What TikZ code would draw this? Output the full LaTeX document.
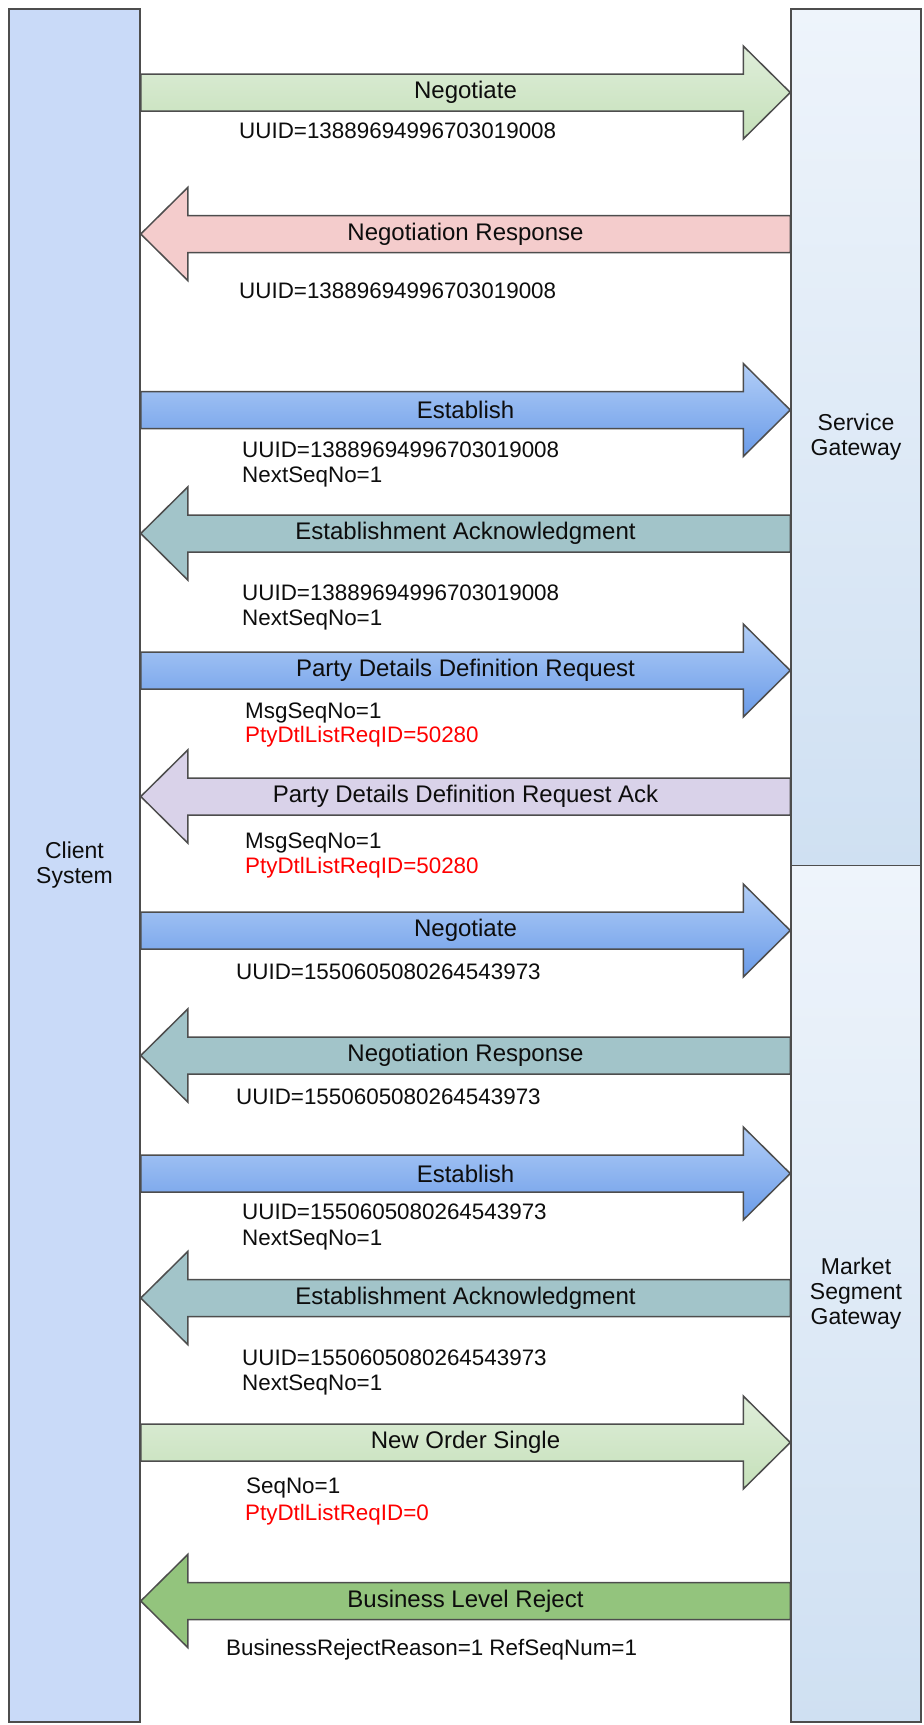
\documentclass[tikz,border=0pt]{standalone}
\usepackage{fontspec}
\setmainfont{Liberation Sans}
\usetikzlibrary{calc}
\definecolor{clientblue}{HTML}{C9DAF8}
\definecolor{gwtop}{HTML}{EEF4FB}
\definecolor{gwbot}{HTML}{CFE0F2}
\definecolor{lgreentop}{HTML}{DFEEDA}
\definecolor{lgreenbot}{HTML}{C5E0B9}
\definecolor{pinkfill}{HTML}{F4CCCC}
\definecolor{bluetop}{HTML}{B2CEF7}
\definecolor{bluebot}{HTML}{6A9BE8}
\definecolor{tealfill}{HTML}{A2C4C9}
\definecolor{lavfill}{HTML}{D9D2E9}
\definecolor{greenfill}{HTML}{93C47D}
\definecolor{edgegray}{HTML}{4D4D4D}
\definecolor{redtext}{HTML}{FF0000}
\definecolor{txt}{HTML}{0D0D0D}
\tikzset{
  basefont/.style={font=\fontsize{23}{25}\selectfont, text=txt},
  lifeline/.style={draw=edgegray, line width=1.5pt, rectangle, align=center, inner sep=0pt, basefont},
  gateway/.style={lifeline, top color=gwtop, bottom color=gwbot, minimum width=130pt},
  msgshape/.style={draw=edgegray, line width=1.5pt, line join=miter},
  msglabel/.style={font=\fontsize{24}{26}\selectfont, text=txt, inner sep=0pt},
  note/.style={font=\fontsize{22.4}{25}\selectfont, text=txt, anchor=base west, inner sep=0pt},
  rednote/.style={note, text=redtext},
  lgreen/.style={top color=lgreentop, bottom color=lgreenbot},
  pinkarrow/.style={fill=pinkfill},
  bluearrow/.style={top color=bluetop, bottom color=bluebot},
  tealarrow/.style={fill=tealfill},
  lavarrow/.style={fill=lavfill},
  greenarrow/.style={fill=greenfill},
}
\newcommand\msgarrow[5]{%
  \coordinate (#5hb) at ($(#2)!47pt!(#1)$);
  \path[msgshape,#3] ($(#1)+(0,-18.5)$) -- ($(#5hb)+(0,-18.5)$) -- ($(#5hb)+(0,-46.5)$) -- (#2)
     -- ($(#5hb)+(0,46.5)$) -- ($(#5hb)+(0,18.5)$) -- ($(#1)+(0,18.5)$) -- cycle;
  \node[msglabel] (#5) at ($(#1)!0.5!(#2)$) {#4};
}
\begin{document}
\begin{tikzpicture}[x=1pt,y=-1pt]
\useasboundingbox (0,0) rectangle (924,1725);
\node[lifeline, fill=clientblue, minimum width=131pt, minimum height=1713pt] (client) at (74.5,865.5) {Client\\System};
\node[gateway, minimum height=856.5pt] (sg) at (856,437.25) {Service\\Gateway};
\node[gateway, minimum height=856.5pt] (msg) at (856,1293.75) {Market\\Segment\\Gateway};

% 1 Negotiate
\coordinate (c1) at (client.east |- 0,92.5); \coordinate (g1) at (sg.west |- 0,92.5);
\msgarrow{c1}{g1}{lgreen}{Negotiate}{m1}
\node[note] (n1) at (239,138) {UUID=13889694996703019008};
% 2 Negotiation Response
\coordinate (c2) at (client.east |- 0,234); \coordinate (g2) at (sg.west |- 0,234);
\msgarrow{g2}{c2}{pinkarrow}{Negotiation Response}{m2}
\node[note] (n2) at (239,298) {UUID=13889694996703019008};
% 3 Establish
\coordinate (c3) at (client.east |- 0,410); \coordinate (g3) at (sg.west |- 0,410);
\msgarrow{c3}{g3}{bluearrow}{Establish}{m3}
\node[note] (n3a) at (242,457) {UUID=13889694996703019008};
\node[note] (n3b) at (242,482) {NextSeqNo=1};
% 4 Establishment Acknowledgment
\coordinate (c4) at (client.east |- 0,533.5); \coordinate (g4) at (sg.west |- 0,533.5);
\msgarrow{g4}{c4}{tealarrow}{Establishment Acknowledgment}{m4}
\node[note] (n4a) at (242,600) {UUID=13889694996703019008};
\node[note] (n4b) at (242,625) {NextSeqNo=1};
% 5 Party Details Definition Request
\coordinate (c5) at (client.east |- 0,670.5); \coordinate (g5) at (sg.west |- 0,670.5);
\msgarrow{c5}{g5}{bluearrow}{Party Details Definition Request}{m5}
\node[note] (n5a) at (245,718) {MsgSeqNo=1};
\node[rednote] (n5b) at (245,742) {PtyDtlListReqID=50280};
% 6 Party Details Definition Request Ack
\coordinate (c6) at (client.east |- 0,796.5); \coordinate (g6) at (sg.west |- 0,796.5);
\msgarrow{g6}{c6}{lavarrow}{Party Details Definition Request Ack}{m6}
\node[note] (n6a) at (245,848) {MsgSeqNo=1};
\node[rednote] (n6b) at (245,873) {PtyDtlListReqID=50280};
% 7 Negotiate
\coordinate (c7) at (client.east |- 0,930.5); \coordinate (g7) at (msg.west |- 0,930.5);
\msgarrow{c7}{g7}{bluearrow}{Negotiate}{m7}
\node[note] (n7) at (236,979) {UUID=1550605080264543973};
% 8 Negotiation Response
\coordinate (c8) at (client.east |- 0,1055.5); \coordinate (g8) at (msg.west |- 0,1055.5);
\msgarrow{g8}{c8}{tealarrow}{Negotiation Response}{m8}
\node[note] (n8) at (236,1104) {UUID=1550605080264543973};
% 9 Establish
\coordinate (c9) at (client.east |- 0,1173.5); \coordinate (g9) at (msg.west |- 0,1173.5);
\msgarrow{c9}{g9}{bluearrow}{Establish}{m9}
\node[note] (n9a) at (242,1219) {UUID=1550605080264543973};
\node[note] (n9b) at (242,1245) {NextSeqNo=1};
% 10 Establishment Acknowledgment
\coordinate (c10) at (client.east |- 0,1298); \coordinate (g10) at (msg.west |- 0,1298);
\msgarrow{g10}{c10}{tealarrow}{Establishment Acknowledgment}{m10}
\node[note] (n10a) at (242,1365) {UUID=1550605080264543973};
\node[note] (n10b) at (242,1390) {NextSeqNo=1};
% 11 New Order Single
\coordinate (c11) at (client.east |- 0,1442.5); \coordinate (g11) at (msg.west |- 0,1442.5);
\msgarrow{c11}{g11}{lgreen}{New Order Single}{m11}
\node[note] (n11a) at (246,1493) {SeqNo=1};
\node[rednote] (n11b) at (245,1520) {PtyDtlListReqID=0};
% 12 Business Level Reject
\coordinate (c12) at (client.east |- 0,1601); \coordinate (g12) at (msg.west |- 0,1601);
\msgarrow{g12}{c12}{greenarrow}{Business Level Reject}{m12}
\node[note] (n12) at (226,1655) {BusinessRejectReason=1 RefSeqNum=1};
\end{tikzpicture}
\end{document}
